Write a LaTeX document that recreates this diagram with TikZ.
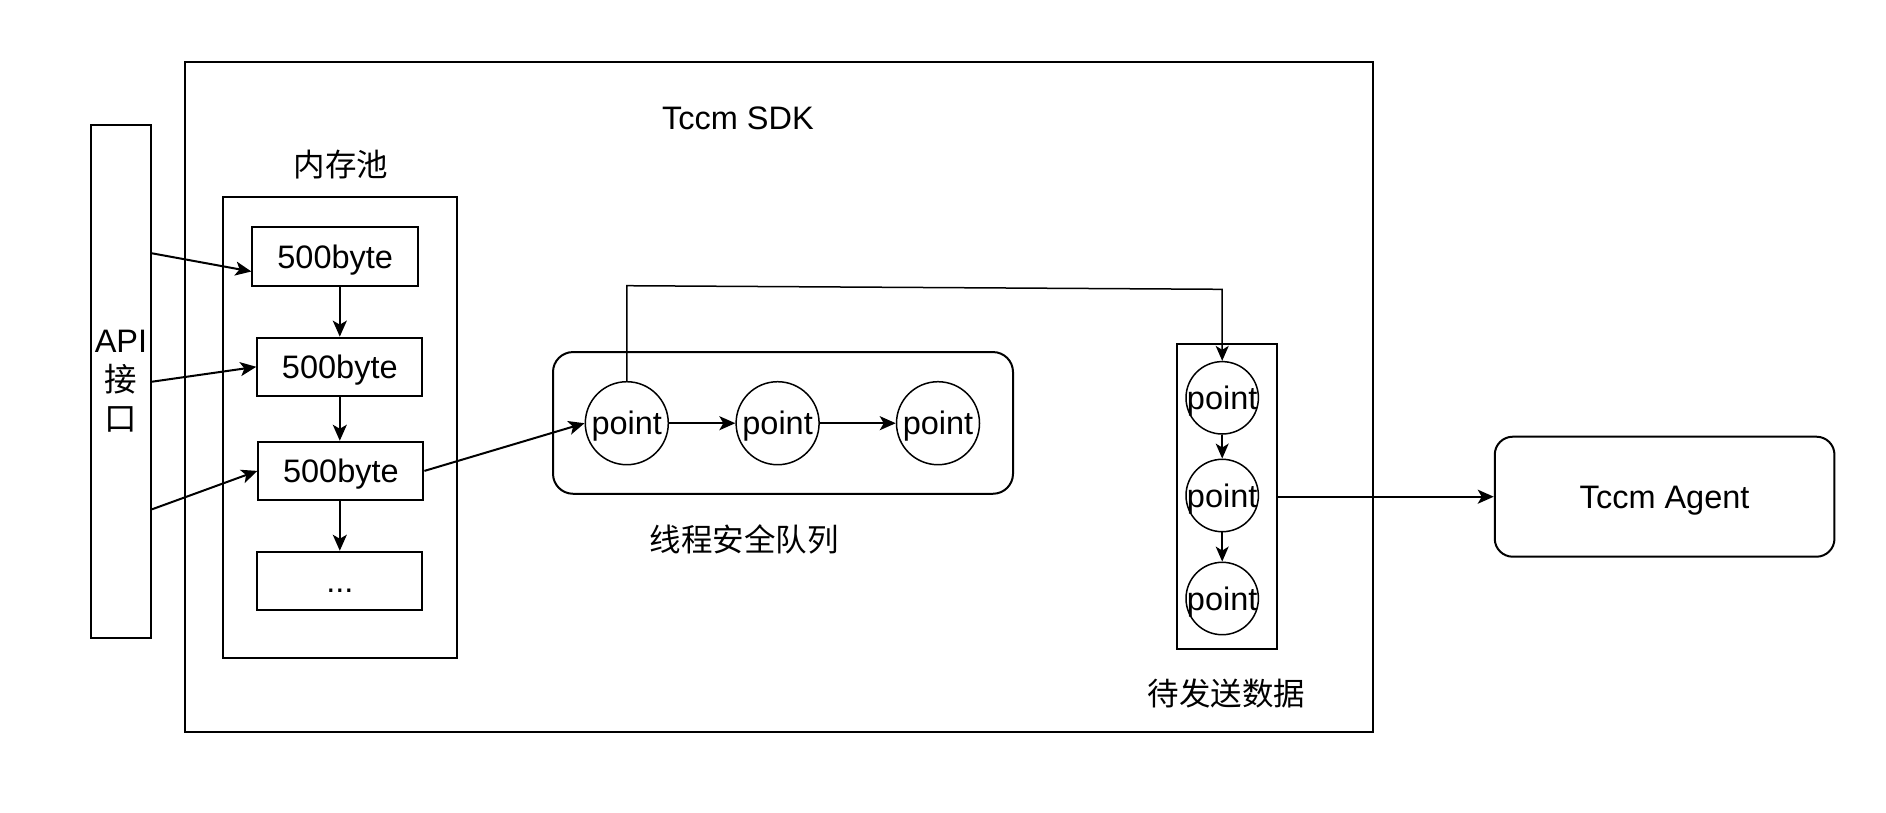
\documentclass[tikz,border=0pt]{standalone}
\usepackage{fontspec}
\setmainfont{Liberation Sans}
\newfontfamily\cjk{Noto Sans CJK SC}
\usetikzlibrary{arrows.meta}
\begin{document}
\begin{tikzpicture}[x=1pt,y=-1pt,
  txt/.style={font=\fontsize{32.5}{39}\selectfont, text height=23.4pt, text depth=0pt},
  cjktxt/.style={font=\cjk\fontsize{31.5}{38}\selectfont, text height=23.6pt, text depth=0pt},
  frame/.style={draw, line width=2pt, inner sep=0pt},
  cbox/.style={frame, txt},
  rbox/.style={frame, rounded corners=20pt},
  pnode/.style={circle, draw, line width=1.5pt, inner sep=0pt, txt},
  lbl/.style={inner sep=0pt},
  arr/.style={-{Stealth[length=16pt,width=14pt,inset=4pt]}, line width=2pt},
  thinarr/.style={-{Stealth[length=15pt,width=13pt,inset=4pt]}, line width=1.5pt}
]
\useasboundingbox (0,0) rectangle (1886,812);
\fill[white] (0,0) rectangle (1886,812);

% outer SDK frame
\node[frame, minimum width=1188pt, minimum height=670pt] (sdk) at (779,396.7) {};
\node[lbl, txt] (sdklbl) at (738,117.5) {Tccm SDK};

% API
\node[frame, minimum width=60pt, minimum height=512.7pt, align=center,
      font=\fontsize{32.5}{39}\selectfont] (api) at (121,381.7)
  {API\\{\cjk 接}\\{\cjk 口}};

% memory pool
\node[lbl, cjktxt] (poollbl) at (341,165) {内存池};
\node[frame, minimum width=234.5pt, minimum height=460.7pt] (pool) at (339.8,427.7) {};
\node[cbox, minimum width=165.6pt, minimum height=58.3pt] (b1) at (335.2,256.5) {500byte};
\node[cbox, minimum width=165pt, minimum height=58.3pt] (b2) at (339.8,366.8) {500byte};
\node[cbox, minimum width=165pt, minimum height=58.3pt] (b3) at (340.9,470.9) {500byte};
\node[cbox, minimum width=165pt, minimum height=58.3pt] (b4) at (339.8,580.9) {...};

% thread-safe queue
\node[rbox, minimum width=460pt, minimum height=141.7pt] (queue) at (783,422.9) {};
\node[lbl, cjktxt] (queuelbl) at (744,540) {线程安全队列};
\node[pnode, minimum size=83pt] (q1) at (626.8,423.2) {\makebox[0pt]{point}};
\node[pnode, minimum size=83pt] (q2) at (777.6,423.2) {\makebox[0pt]{point}};
\node[pnode, minimum size=83pt] (q3) at (938,423.2) {\makebox[0pt]{point}};

% pending data
\node[frame, minimum width=100pt, minimum height=305.5pt] (pend) at (1226.5,496.4) {};
\node[pnode, minimum size=72.4pt] (p1) at (1222.2,397.8) {\makebox[0pt]{point}};
\node[pnode, minimum size=72.4pt] (p2) at (1222.2,495.5) {\makebox[0pt]{point}};
\node[pnode, minimum size=72.4pt] (p3) at (1222.2,598.5) {\makebox[0pt]{point}};
\node[lbl, cjktxt] (pendlbl) at (1226.5,694) {待发送数据};

% agent
\node[cbox, rounded corners=18pt, minimum width=339.7pt, minimum height=120pt] (agent) at (1664.6,496.7) {Tccm Agent};

% connectors
\draw[arr] ([yshift=128.4pt]api.east) -- ([yshift=-15pt]b1.west);
\draw[arr] (api.east) -- (b2.west);
\draw[arr] ([yshift=-127.6pt]api.east) -- (b3.west);
\draw[arr] (b2.north |- b1.south) -- (b2.north);
\draw[arr] (b2.south) -- (b2.south |- b3.north);
\draw[arr] (b4.north |- b3.south) -- (b4.north);
\draw[arr] (b3.east) -- (q1.west);
\draw[arr] (q1.east) -- (q2.west);
\draw[arr] (q2.east) -- (q3.west);
\coordinate (w1) at (626.8,285.7);
\coordinate (w2) at (1222.2,289.3);
\draw[thinarr] (q1.north) -- (w1) -- (w2) -- (p1.north);
\draw[thinarr] (p1.south) -- (p2.north);
\draw[thinarr] (p2.south) -- (p3.north);
\draw[arr] (pend.east |- agent.west) -- (agent.west);
\end{tikzpicture}
\end{document}
